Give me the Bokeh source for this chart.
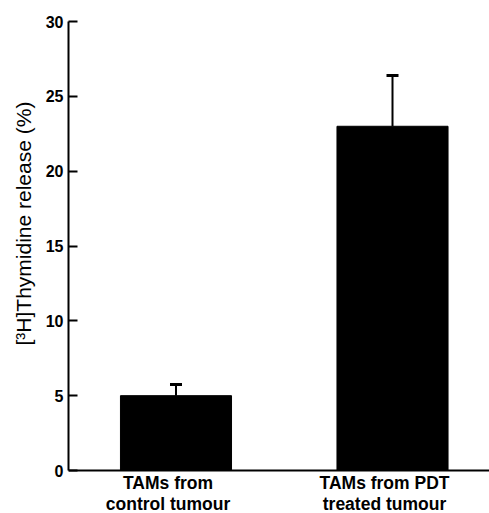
from bokeh.plotting import figure
from bokeh.models import Range1d, FixedTicker, Whisker, ColumnDataSource, TeeHead, Span, Title
from bokeh.core.properties import value
from bokeh.embed import file_html
from bokeh.resources import INLINE

categories = ["TAMs from\ncontrol tumour", "TAMs from PDT\ntreated tumour"]
positions = [1, 2]
values = [5.0, 23.0]
errors = [0.75, 3.4]
y_ticks = [0, 5, 10, 15, 20, 25, 30]
y_label = "[\u00b3H]Thymidine release (%)"

upper = [v + e for v, e in zip(values, errors)]
zeros = [0 for _ in positions]
src = ColumnDataSource(dict(x=positions, top=values, upper=upper, base=zeros, label=categories))

font = "Liberation Sans"

p = figure(width=489, height=513, output_backend="svg", toolbar_location=None,
           x_range=Range1d(0.5035, 2.448), y_range=Range1d(-2.873, 30),
           min_border_left=68, min_border_right=0, min_border_top=21, min_border_bottom=0)
p.outline_line_color = None
p.xgrid.grid_line_color = None
p.ygrid.grid_line_color = None
p.xaxis.visible = False

p.vbar(x="x", top="top", bottom=0, width=0.513, source=src, fill_color="black", line_color="black")

w = Whisker(source=src, base="x", upper="upper", lower="top", line_width=2, line_color="black",
            upper_head=TeeHead(size=12, line_width=3, line_color="black"), lower_head=None)
p.add_layout(w)

# x axis line at zero
p.add_layout(Span(location=0, dimension="width", line_color="black", line_width=2))

# category labels under the bars
p.text(x="x", y="base", text="label", source=src, x_offset=-8, y_offset=2,
       text_align="center", text_baseline="top", text_font=value(font),
       text_font_size="17.5px", text_font_style="bold", text_color="black",
       text_line_height=1.05)

p.yaxis.bounds = (0, 30)
p.yaxis.ticker = FixedTicker(ticks=y_ticks)
p.yaxis.axis_line_color = "black"
p.yaxis.axis_line_width = 2
p.yaxis.major_tick_line_color = "black"
p.yaxis.major_tick_line_width = 2
p.yaxis.major_tick_in = 9
p.yaxis.major_tick_out = 0
p.yaxis.minor_tick_line_color = None
p.yaxis.major_label_standoff = 5
p.yaxis.major_label_text_font = font
p.yaxis.major_label_text_color = "black"
p.yaxis.major_label_text_font_size = "16px"
p.yaxis.major_label_text_font_style = "bold"

p.add_layout(Title(text=y_label, align="left", offset=168, standoff=16,
                   text_font=font, text_font_size="21px", text_font_style="normal",
                   text_color="black"), "left")

open("out.html", "w").write(file_html(p, INLINE))
